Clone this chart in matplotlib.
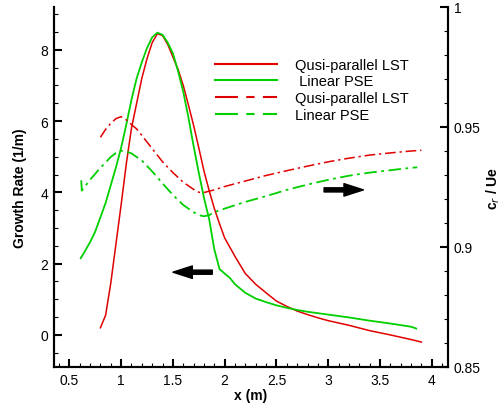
import matplotlib
matplotlib.use('Agg')
import matplotlib.pyplot as plt
from matplotlib.ticker import MultipleLocator, FuncFormatter
from matplotlib.lines import Line2D

plt.rcParams['font.family'] = ['Liberation Sans', 'DejaVu Sans']

# growth rate, qusi-parallel LST (left axis)
x_lst = [0.80, 0.85, 0.90, 0.95, 1.00, 1.05, 1.10, 1.15, 1.20, 1.25, 1.30, 1.35,
         1.40, 1.45, 1.50, 1.55, 1.60, 1.65, 1.70, 1.75, 1.80, 1.85, 1.90, 1.95,
         2.00, 2.10, 2.20, 2.30, 2.40, 2.50, 2.60, 2.70, 2.80, 2.90, 3.00, 3.20,
         3.40, 3.60, 3.80, 3.90]
g_lst = [0.20, 0.55, 1.45, 2.55, 3.65, 4.80, 5.80, 6.50, 7.20, 7.75, 8.20, 8.45,
         8.40, 8.15, 7.80, 7.45, 7.00, 6.45, 5.88, 5.25, 4.60, 4.05, 3.55, 3.12,
         2.72, 2.20, 1.72, 1.42, 1.18, 0.95, 0.80, 0.67, 0.57, 0.48, 0.40, 0.27,
         0.12, 0.00, -0.13, -0.20]

# growth rate, linear PSE (left axis)
x_pse = [0.61, 0.65, 0.70, 0.75, 0.80, 0.85, 0.90, 0.95, 1.00, 1.05, 1.10, 1.15,
         1.20, 1.25, 1.30, 1.35, 1.40, 1.45, 1.50, 1.55, 1.60, 1.65, 1.70, 1.75,
         1.80, 1.85, 1.90, 1.95, 2.00, 2.05, 2.10, 2.20, 2.30, 2.40, 2.50, 2.60,
         2.70, 2.80, 2.90, 3.00, 3.20, 3.40, 3.60, 3.80, 3.85]
g_pse = [2.15, 2.35, 2.60, 2.90, 3.30, 3.70, 4.20, 4.70, 5.25, 5.90, 6.60, 7.20,
         7.65, 8.05, 8.35, 8.48, 8.42, 8.20, 7.90, 7.40, 6.82, 6.10, 5.30, 4.55,
         3.85, 3.25, 2.40, 1.85, 1.72, 1.60, 1.42, 1.18, 1.02, 0.92, 0.83, 0.76,
         0.70, 0.65, 0.61, 0.57, 0.49, 0.40, 0.32, 0.23, 0.18]

# phase speed cr/Ue, qusi-parallel LST (right axis)
xc_lst = [0.80, 0.85, 0.90, 0.95, 1.00, 1.05, 1.10, 1.15, 1.20, 1.30, 1.40, 1.50,
          1.60, 1.70, 1.75, 1.80, 1.90, 2.00, 2.20, 2.40, 2.60, 2.80, 3.00, 3.20,
          3.40, 3.60, 3.80, 3.90]
c_lst = [0.9457, 0.9490, 0.9515, 0.9535, 0.9543, 0.9530, 0.9510, 0.9492, 0.9465,
         0.9410, 0.9355, 0.9310, 0.9270, 0.9240, 0.9228, 0.9227, 0.9238, 0.9252,
         0.9275, 0.9298, 0.9318, 0.9337, 0.9355, 0.9370, 0.9383, 0.9392, 0.9400,
         0.9403]

# phase speed cr/Ue, linear PSE (right axis)
xc_pse = [0.615, 0.62, 0.70, 0.80, 0.90, 0.95, 1.00, 1.05, 1.10, 1.20, 1.30, 1.40,
          1.50, 1.60, 1.70, 1.75, 1.80, 1.85, 1.90, 2.00, 2.20, 2.40, 2.60, 2.80,
          3.00, 3.20, 3.40, 3.60, 3.80, 3.86]
c_pse = [0.9278, 0.9235, 0.9280, 0.9330, 0.9375, 0.9392, 0.9401, 0.9398, 0.9390,
         0.9360, 0.9315, 0.9265, 0.9217, 0.9175, 0.9145, 0.9133, 0.9128, 0.9133,
         0.9145, 0.9160, 0.9188, 0.9212, 0.9238, 0.9260, 0.9280, 0.9297, 0.9310,
         0.9320, 0.9330, 0.9332]

labels = ['Qusi-parallel LST', ' Linear PSE', 'Qusi-parallel LST', 'Linear PSE']

red = '#e00000'
green = '#00d000'
dashdot = (0, (7, 2.5, 1.5, 2.5))

fig = plt.figure(figsize=(5.03, 4.06), dpi=100)
ax = fig.add_axes([0.1074, 0.0936, 0.7833, 0.8867])
ax2 = ax.twinx()

ax.plot(x_lst, g_lst, color=red, lw=1.1)
ax.plot(x_pse, g_pse, color=green, lw=1.3)
ax2.plot(xc_lst, c_lst, color=red, lw=1.1, ls=dashdot)
ax2.plot(xc_pse, c_pse, color=green, lw=1.3, ls=dashdot)

ax.set_xlim(0.352, 4.157)
ax.set_ylim(-0.9, 9.2)
ax2.set_ylim(0.85, 1.0)

ax.xaxis.set_major_locator(MultipleLocator(0.5))
ax.xaxis.set_minor_locator(MultipleLocator(0.1))
ax.xaxis.set_major_formatter(FuncFormatter(lambda v, p: '%g' % v))
ax.yaxis.set_major_locator(MultipleLocator(2))
ax.yaxis.set_minor_locator(MultipleLocator(0.5))
ax.yaxis.set_major_formatter(FuncFormatter(lambda v, p: '%g' % v))
ax2.yaxis.set_major_locator(MultipleLocator(0.05))
ax2.yaxis.set_minor_locator(MultipleLocator(0.01))
ax2.yaxis.set_major_formatter(FuncFormatter(lambda v, p: '%g' % round(v, 2)))

for a in (ax, ax2):
    a.spines['top'].set_visible(False)
    for s in ('left', 'right', 'bottom'):
        a.spines[s].set_linewidth(1.5)
    a.tick_params(which='major', direction='in', length=6, width=1.5, labelsize=10, pad=4)
    a.tick_params(which='minor', direction='in', length=3, width=0.8)
ax.tick_params(top=False, right=False)
ax.tick_params(which='minor', top=False, right=False)

ax.set_xlabel('x (m)', fontsize=10, fontweight='bold', labelpad=1)
ax.set_ylabel('Growth Rate (1/m)', fontsize=10, fontweight='bold', labelpad=10)
ax2.set_ylabel('c$_r$ / Ue', fontsize=10, fontweight='bold', labelpad=3)

# arrows pointing to the axis each pair of curves belongs to
ax.annotate('', xy=(1.50, 1.76), xytext=(1.88, 1.76),
            arrowprops=dict(facecolor='k', edgecolor='k', width=3, headwidth=9,
                            headlength=14, shrink=0))
ax2.annotate('', xy=(3.34, 0.9238), xytext=(2.96, 0.9238),
             arrowprops=dict(facecolor='k', edgecolor='k', width=3, headwidth=9,
                             headlength=14, shrink=0))

handles = [Line2D([], [], color=red, lw=1.5),
           Line2D([], [], color=green, lw=1.5),
           Line2D([], [], color=red, lw=1.5, ls=(0, (11, 4, 4, 4))),
           Line2D([], [], color=green, lw=1.5, ls=(0, (11, 4, 4, 4)))]
ax2.legend(handles, labels, loc='upper left', bbox_to_anchor=(0.413, 0.873),
           bbox_transform=fig.transFigure, frameon=False, fontsize=10.5,
           handlelength=4.25, handletextpad=1.2, labelspacing=0.18, borderpad=0)

fig.savefig('out.png', dpi=100)
